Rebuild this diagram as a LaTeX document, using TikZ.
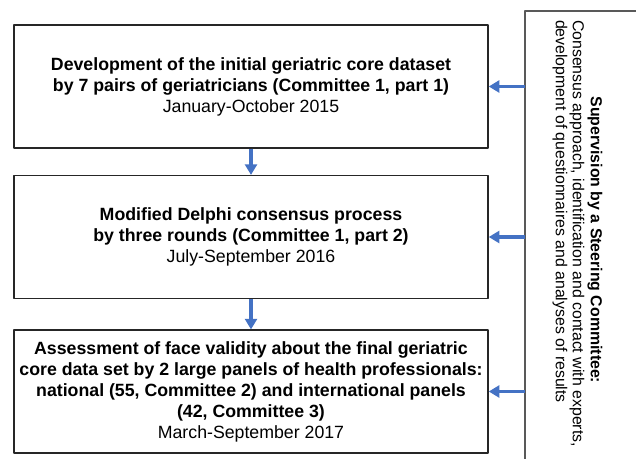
\documentclass[tikz,border=0pt]{standalone}
\usepackage{fontspec}
\setmainfont{Liberation Sans}
\usetikzlibrary{arrows.meta}
\definecolor{flowblue}{HTML}{4472C4}
\definecolor{framegray}{HTML}{595959}
\begin{document}
\begin{tikzpicture}[x=0.75pt, y=-0.75pt, font=\fontsize{13.3}{15.75}\selectfont, line join=round, >={Triangle[length=8pt,width=9pt]},
  stage/.style={draw=black!85, line width=1.1pt, minimum width=355.5pt, minimum height=92pt, inner sep=0pt, align=center},
  flow/.style={->, draw=flowblue, fill=flowblue, line width=2.6pt},
  sidetext/.style={rotate=-90, inner sep=0pt, font=\fontsize{11.9}{12.75}\selectfont}]
\useasboundingbox (0,0) rectangle (636,459);
\node[stage] (dev) at (251,86.5) {\textbf{Development of the initial geriatric core dataset}\\\textbf{by 7 pairs of geriatricians (Committee 1, part 1)}\\January-October 2015};
\node[stage] (delphi) at (251,237) {\textbf{Modified Delphi consensus process}\\\textbf{by three rounds (Committee 1, part 2)}\\July-September 2016};
\node[stage] (face) at (251,391.5) {\textbf{Assessment of face validity about the final geriatric}\\\textbf{core data set by 2 large panels of health professionals:}\\\textbf{national (55, Committee 2) and international panels}\\\textbf{(42, Committee 3)}\\March-September 2017};
% steering committee frame
\coordinate (steer) at (525,11);
\draw[framegray, line width=1.1pt] (steer |- 0,459) -- (steer) -- (steer -| 636,0);
\node[sidetext, font=\fontsize{11.9}{12.75}\selectfont\bfseries] (sctitle) at (595,240) {Supervision by a Steering Committee:};
\node[sidetext, align=left] (scbody) at (568.5,233.5) {Consensus approach, identification and contact with experts,\\development of questionnaires and analyses of results};
\draw[flow] (dev) -- (delphi);
\draw[flow] (delphi) -- (face);
\draw[flow] (dev.east -| steer) -- (dev.east);
\draw[flow] (delphi.east -| steer) -- (delphi.east);
\draw[flow] (face.east -| steer) -- (face.east);
\end{tikzpicture}
\end{document}
